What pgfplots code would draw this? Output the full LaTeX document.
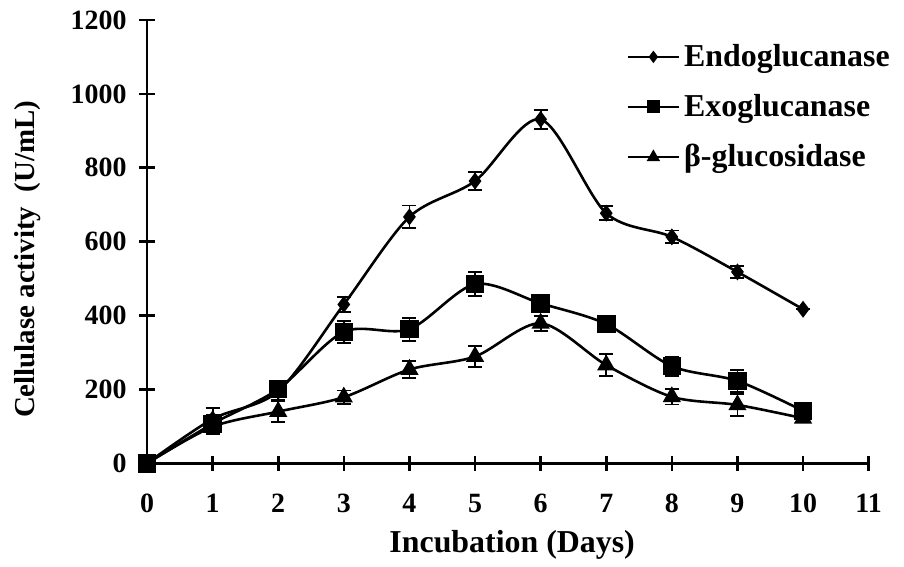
\documentclass[border=0pt]{standalone}
\usepackage{fontspec}
\setmainfont{Liberation Serif}
\usepackage{pgfplots}
\pgfplotsset{compat=1.18}

\begin{document}
\begin{tikzpicture}
\begin{axis}[
  scale only axis,width=360.8bp,height=221.65bp,
  xmin=0,xmax=11,ymin=0,ymax=1200,
  xtick={0,1,...,11},ytick={0,200,...,1200},
  axis lines=left,axis line style={-,line width=1.3pt},
  tick align=center,major tick length=7.5bp,
  tick style={line width=1.3pt,black},
  /pgf/number format/assume math mode=true,
  /pgf/number format/1000 sep={},
  tick label style={font=\fontsize{14}{16}\selectfont\bfseries},
  xticklabel style={yshift=-8bp},
  yticklabel style={xshift=-3bp},
  xlabel={Incubation (Days)},
  ylabel={Cellulase activity\ \ (U/mL)},
  xlabel style={font=\fontsize{16}{18}\selectfont\bfseries,
    at={(axis description cs:0.506,-0.184)},anchor=center},
  ylabel style={font=\fontsize{14.5}{17}\selectfont\bfseries,
    at={(axis description cs:-0.166,0.46)},anchor=center},
  clip=false,
  legend style={at={(axis description cs:0.664,0.955)},anchor=north west,
    draw=none,fill=none,font=\fontsize{16}{18}\selectfont\bfseries,
    row sep=8.5bp,inner sep=0pt},
  legend cell align=left,
  legend image code/.code={\draw[mark repeat=2,mark phase=2,
    every mark/.append style={scale=0.65}]
    plot coordinates {(0cm,0cm)(0.45cm,0cm)(0.9cm,0cm)};},
  every axis plot/.append style={black,line width=1.3pt,smooth,tension=0.5},
  error bars/error bar style={line width=0.9pt,solid,black},
  error bars/error mark options={rotate=90,mark size=3.5pt,line width=0.9pt,black},
]
\addplot[black,mark=diamond*,mark size=3.2pt,mark options={solid,fill=black},
  error bars/.cd,y dir=both,y explicit]
  coordinates {
  (0,0) +- (0,0)
  (1,120) +- (0,30)
  (2,195) +- (0,22)
  (3,430) +- (0,20)
  (4,667) +- (0,31)
  (5,764) +- (0,24)
  (6,931) +- (0,26)
  (7,677) +- (0,19)
  (8,613) +- (0,17)
  (9,518) +- (0,16)
  (10,417) +- (0,0)
};
\addlegendentry{Endoglucanase}
\addplot[black,mark=square*,mark size=4pt,mark options={solid,fill=black},
  error bars/.cd,y dir=both,y explicit]
  coordinates {
  (0,0) +- (0,0)
  (1,107) +- (0,25)
  (2,201) +- (0,20)
  (3,356) +- (0,30)
  (4,363) +- (0,31)
  (5,485) +- (0,32)
  (6,433) +- (0,15)
  (7,377) +- (0,23)
  (8,263) +- (0,26)
  (9,223) +- (0,30)
  (10,142) +- (0,10)
};
\addlegendentry{Exoglucanase}
\addplot[black,mark=triangle*,mark size=4pt,mark options={solid,fill=black},
  error bars/.cd,y dir=both,y explicit]
  coordinates {
  (0,0) +- (0,0)
  (1,99) +- (0,20)
  (2,140) +- (0,28)
  (3,179) +- (0,18)
  (4,254) +- (0,24)
  (5,289) +- (0,28)
  (6,379) +- (0,20)
  (7,266) +- (0,30)
  (8,180) +- (0,21)
  (9,158) +- (0,29)
  (10,122) +- (0,10)
};
\addlegendentry{β-glucosidase}
\path (axis description cs:-0.2037,-0.2204) rectangle (axis description cs:1.049,1.0451);
\end{axis}
\end{tikzpicture}
\end{document}
